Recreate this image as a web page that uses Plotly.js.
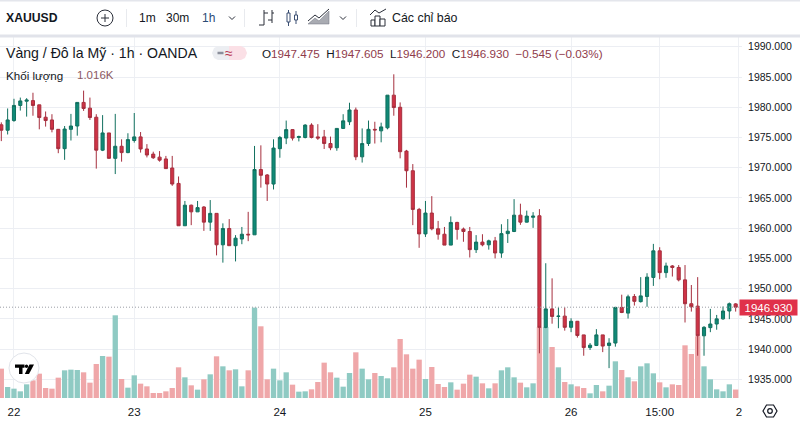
<!DOCTYPE html>
<html>
<head>
<meta charset="utf-8">
<script src="https://cdn.plot.ly/plotly-3.0.1.min.js"></script>
<style>html,body{margin:0;padding:0;background:#fff;overflow:hidden}#c{width:800px;height:422px}</style>
</head>
<body>
<div id="c"></div>
<script>
const opens = [1977.1,1976.2,1977.8,1980.3,1981.0,1981.1,1980.4,1978.35,1977.9,1976.35,
1973.15,1976.35,1976.9,1980.8,1979.85,1978.35,1972.9,1975.75,1971.55,1973.55,
1972.5,1974.5,1975.1,1973.1,1972.25,1971.75,1971.45,1969.95,1967.4,1960.4,
1963.8,1962.7,1963.5,1961,1962.45,1957.25,1959.95,1957.1,1958.2,1959,
1958.9,1969.7,1968.8,1967.3,1973.15,1974.9,1976.3,1975,1975,1977.05,
1975.1,1975.1,1974,1973.3,1976.5,1977.6,1979.55,1971.8,1974,1976.35,
1976.1,1976.6,1982,1980,1972.75,1969.5,1963.1,1959.05,1962.5,1959.9,
1959,1957.2,1960.95,1959.85,1959.45,1956.45,1957.7,1957.25,1957.9,1955.9,
1959.1,1959.45,1962.15,1961,1961.8,1962.05,1943.6,1946.65,1945.4,1945.45,
1943.6,1944.6,1942.35,1940.25,1940.6,1942.35,1940.6,1941,1946.9,1945.95,
1948.7,1947.85,1948.7,1951.85,1956.25,1952.65,1953.75,1953.5,1951.45,1947.5,
1947.1,1942.2,1943.55,1944.15,1945,1946.3,1947.475];
const highs = [1977.5,1979.8,1981.4,1981.6,1981.5,1982.4,1980.4,1979.3,1978.85,1976.4,
1976.9,1978.9,1980.8,1982.75,1981.6,1978.85,1978.7,1975.75,1978.9,1974.7,
1975.7,1979.05,1975.9,1973.9,1972.65,1972.75,1971.95,1971.95,1968.55,1964.5,
1963.9,1964.5,1963.65,1964.65,1962.45,1960.8,1961.5,1958.85,1960.2,1962.7,
1973.6,1973.7,1968.95,1974.7,1975.25,1977.8,1976.4,1975.3,1977.2,1977.35,
1977.2,1976.25,1975.15,1976.5,1978.85,1980.75,1979.95,1976.5,1977.8,1977.6,
1977.45,1982,1985.45,1980.8,1972.95,1970.6,1963.35,1964.5,1965.3,1961.2,
1960.2,1961.95,1961.05,1960.1,1960.2,1958.85,1959,1958.1,1958.55,1960.65,
1961.5,1964.8,1964.05,1962.9,1962.65,1963.15,1954.2,1951.7,1946.9,1946.9,
1945.1,1944.65,1942.35,1941,1943.3,1942.35,1941.8,1946.9,1949,1949,
1949.1,1951.9,1952.55,1957.4,1956.85,1954.3,1953.9,1953.9,1953.9,1950.6,
1951.9,1943.8,1946.65,1945.65,1947.05,1947.7,1947.605];
const lows = [1974.4,1975.5,1977.6,1979.45,1978.45,1978.6,1976.35,1976.8,1975.85,1972.4,
1971.3,1974.5,1975.3,1979.4,1977.9,1969.85,1972.75,1971.5,1968.95,1971,
1972.4,1974.15,1972.5,1971.7,1971.45,1971,1969.8,1967,1960.4,1960.4,
1960.5,1962.7,1959.55,1959.55,1955.5,1954.3,1957.1,1954.5,1957.35,1957.85,
1958.9,1966.7,1964.5,1966.4,1971.65,1973.9,1974.5,1974.35,1974.85,1974.85,
1974.6,1973.1,1972.9,1972.8,1976.4,1977.05,1971.25,1970.85,1973.6,1974,
1974.2,1976.35,1978.6,1971.55,1966.7,1960.5,1956.75,1958.55,1959.65,1958.1,
1957.2,1957.2,1958.1,1957.75,1955.15,1955.9,1957,1956.45,1955,1955.1,
1957.55,1959.35,1960.55,1960.95,1960.05,1939.3,1943.45,1944.2,1943.45,1943.05,
1942.8,1941.9,1938.9,1939.85,1940.5,1939.5,1936.85,1940.4,1945.95,1945.05,
1947.2,1947.7,1947,1950.45,1951.55,1951.8,1952,1951.2,1944.4,1946.2,
1938.9,1938.9,1942.8,1943.2,1944.85,1944.95,1946.2];
const closes = [1976.2,1977.9,1980.3,1981.05,1981.2,1980.3,1978.3,1977.8,1976.35,1973.15,
1976.4,1976.9,1980.8,1979.8,1978.3,1972.9,1975.75,1971.55,1973.55,1972.5,
1974.65,1975.1,1973.1,1972.1,1971.65,1971.25,1969.85,1967.3,1960.4,1963.8,
1962.7,1963.4,1961,1962.45,1957.25,1959.95,1957.1,1958.35,1959,1958.9,
1969.7,1968.75,1967.3,1973.25,1975,1976.3,1974.9,1975.15,1977.05,1975,
1974.9,1974,1973.3,1976.5,1977.75,1979.55,1971.8,1974,1976.35,1976.25,
1976.75,1982,1979.95,1972.65,1969.5,1963.1,1959.05,1962.5,1959.9,1959,
1957.2,1960.95,1959.8,1959.45,1956.45,1957.7,1957.25,1957.9,1955.9,1959.1,
1959.5,1962.15,1961,1962,1962,1943.6,1946.65,1945.4,1945.45,1943.6,
1944.6,1942.25,1940.25,1940.65,1942.35,1940.5,1941,1946.9,1946.05,1948.65,
1947.9,1948.8,1951.9,1956.25,1952.65,1953.75,1953.5,1951.45,1947.5,1947,
1942.2,1943.6,1944.15,1945,1946.3,1947.5,1946.93];
const volumes = [3.52,1.32,1.12,0.8,1.64,2.12,2.92,1.2,1.12,2.44,
3.32,3.4,3.36,3.08,1.84,4.08,5.04,4.96,9.92,2.28,
1.24,2.72,1.72,1.4,0.6,0.6,0.8,1.2,3.68,2.48,
1.52,1.0,2.24,2.84,5.0,3.8,3.32,3.44,1.4,3.32,
10.84,8.6,2.24,3.52,2.12,3.08,1.6,0.76,0.8,1.04,
1.92,4.24,3.08,2.44,1.36,3.0,5.48,3.52,2.24,3.0,
2.64,2.36,3.68,7.08,5.24,3.52,4.6,2.28,3.72,1.68,
1.32,1.88,1.0,1.72,2.8,2.56,1.76,1.16,1.76,3.32,
3.68,2.48,1.84,1.28,1.76,8.52,8.52,6.12,3.68,1.92,
1.64,1.4,1.2,0.56,1.56,0.8,1.48,4.4,3.36,2.48,
2.0,3.8,4.16,2.96,1.88,1.28,1.64,1.56,6.32,5.28,
7.4,3.8,2.24,1.04,0.8,1.64,1.016];
const dayTicks = [2,21,44,67,90,104,116.5];
const dayLabels = ['22','23','24','25','26','15:00','2'];
const priceTicks = [1935,1940,1945,1950,1955,1960,1965,1970,1975,1980,1985,1990];
const lastPrice = 1946.93;

const PLOT = {l:0, r:742, t:37, b:398};
const W = PLOT.r-PLOT.l, H = PLOT.b-PLOT.t;
const px = x => (x-PLOT.l)/W;
const py = y => 1-(y-PLOT.t)/H;
const idx = opens.map((_,i)=>i);
const UP='#0f8a77', DOWN='#cf3346', UPV='#8fcac3', DOWNV='#efa7a9', INK='#131722';

const pathOf = (pts,close)=>'M'+pts.map(p=>px(p[0])+' '+py(p[1])).join('L')+(close?'Z':'');
const pshape = (pts,o={})=>Object.assign({type:'path',xref:'paper',yref:'paper',path:pathOf(pts,o.fill!==undefined),
  line:{color:o.color||INK,width:o.w===undefined?1:o.w},fillcolor:o.fill||'rgba(0,0,0,0)',layer:o.layer||'above'});
const rect = (x0,y0,x1,y1,fill,line)=>({type:'rect',xref:'paper',yref:'paper',x0:px(x0),x1:px(x1),y0:py(y1),y1:py(y0),
  fillcolor:fill,line:{color:line||fill,width:line?1:0},layer:'above'});
const circ = (cx,cy,r,fill,line,w)=>({type:'circle',xref:'paper',yref:'paper',x0:px(cx-r),x1:px(cx+r),y0:py(cy+r),y1:py(cy-r),
  fillcolor:fill,line:{color:line,width:w===undefined?1:w},layer:'above'});
const label = (x,y,text,o={})=>({xref:'paper',yref:'paper',x:px(x),y:py(y),text,showarrow:false,xanchor:o.anchor||'left',yanchor:'middle',
  font:{family:o.family||'Liberation Sans, Arial, sans-serif',size:o.size||12,color:o.color||INK},borderpad:0,captureevents:false});
const chevron = (x,y)=>pshape([[x-3,y-1.5],[x,y+1.5],[x+3,y-1.5]],{color:'#2a2e39',w:1});

const shapes = [
  rect(0,0,800,1.5,'#e4e6ec'),
  rect(0,34.5,800,37.5,'#e1e3ea'),
  rect(126,9,126.8,27,'#e3e5ea'),
  rect(244,9,244.8,27,'#e3e5ea'),
  rect(356,9,356.8,27,'#e3e5ea'),
  circ(105,18,8,'#fff','#2a2e39',1),
  pshape([[101,18],[109,18]],{color:'#2a2e39'}),
  pshape([[105,14],[105,22]],{color:'#2a2e39'}),
  chevron(232,18),chevron(343,18),
  // bar style icon
  pshape([[264,10],[264,25]],{color:'#2a2e39'}),pshape([[259,25],[264,25]],{color:'#2a2e39'}),
  pshape([[264,13],[268,13]],{color:'#2a2e39'}),
  pshape([[272,10],[272,23]],{color:'#2a2e39'}),pshape([[268,20],[272,20]],{color:'#2a2e39'}),pshape([[272,13],[274,13]],{color:'#2a2e39'}),
  // candle style icon
  rect(287,13,290,22,'#fff','#3b4f72'),pshape([[288.5,10],[288.5,13]],{color:'#3b4f72'}),pshape([[288.5,22],[288.5,26]],{color:'#3b4f72'}),
  rect(294.5,15,297.5,20,'#fff','#3b4f72'),pshape([[296,11],[296,15]],{color:'#3b4f72'}),pshape([[296,20],[296,24]],{color:'#3b4f72'}),
  // area icon
  pshape([[308,24],[315,18],[319,21],[329,11],[329,24]],{color:'#6d717c',w:0.5,fill:'#a9abb2'}),
  pshape([[308,21],[315,15],[319,18],[329,9]],{color:'#2a2e39',w:1}),
  // indicators icon
  rect(371,20,375,26,'#fff','#2a2e39'),rect(375,16,380,26,'#fff','#2a2e39'),rect(380,19,385,26,'#fff','#2a2e39'),
  pshape([[370,15],[375,10],[379,13],[386,9]],{color:'#2a2e39'}),
  // legend pills
  {type:'path',xref:'paper',yref:'paper',layer:'above',line:{width:0},fillcolor:'#eceef2',path:pathOf([[229,46],[218,46],[214,48],[212,53],[214,58],[218,60],[229,60]],true)},
  {type:'path',xref:'paper',yref:'paper',layer:'above',line:{width:0},fillcolor:'#fbe0e6',path:pathOf([[229,46],[241,46],[245,48],[247,53],[245,58],[241,60],[229,60]],true)},
  pshape([[217.5,53],[223.5,53]],{color:'#8b8f9b',w:2.5}),
  // watermark logo
  circ(24,368,15,'rgba(255,255,255,0.92)','#e1e4ea',1),
  pshape([[15,364.5],[24.5,364.5],[24.5,367.7],[22.5,367.7],[22.5,374],[19,374],[19,367.7],[15,367.7]],{fill:'#000',w:0}),
  circ(26.5,366.2,1.7,'#000','#000',0),
  pshape([[29.5,364.5],[34,364.5],[29,374],[24.8,374]],{fill:'#000',w:0}),
  // settings icon
  pshape([[763,411],[766.5,405],[773.5,405],[777,411],[773.5,417],[766.5,417]],{fill:'#fff',color:'#131722',w:1.2}),
  circ(770,411,2.3,'#fff','#131722',1.2),
  // last price dotted line
  {type:'line',xref:'paper',yref:'y2',x0:0,x1:1,y0:lastPrice,y1:lastPrice,line:{color:'#9a9da6',width:1,dash:'1px,2px'},layer:'above'}
];

const val = '#8f3b4b';
const legend =
  'O<span style="color:'+val+'">1947.475</span>  H<span style="color:'+val+'">1947.605</span>  L<span style="color:'+val+'">1946.200</span>  C<span style="color:'+val+'">1946.930</span>  <span style="color:'+val+'">−0.545 (−0.03%)</span>';
const annotations = [
  label(5,18,'<b>XAUUSD</b>',{size:12.2}),
  label(138,18,'1m',{size:12}),
  label(165,18,'30m',{size:12}),
  label(201,18,'1h',{size:12,color:'#2b4a75'}),
  label(391,18,'Các chỉ báo',{size:12.4}),
  label(5,53,'Vàng / Đô la Mỹ · 1h · OANDA',{size:14.1}),
  label(229,53,'≈',{size:14,color:'#b8334f',anchor:'center'}),
  label(261,53,legend,{size:11.7}),
  label(5,75,'Khối lượng',{size:11.6}),
  label(76,75,'1.016K',{size:11.5,color:'#8d5a62'}),
  {xref:'paper',yref:'y2',x:798/W,y:lastPrice,xanchor:'right',yanchor:'middle',text:'1946.930',showarrow:false,
   bgcolor:'#e0314a',width:57,height:15,align:'center',borderpad:0,font:{family:'Liberation Sans, Arial, sans-serif',size:11.5,color:'#fff'}}
];

Plotly.newPlot('c',[
  {type:'bar',x:idx,y:volumes,yaxis:'y',xaxis:'x',width:0.84,
   marker:{color:volumes.map((_,i)=>closes[i]>=opens[i]?UPV:DOWNV),line:{width:0}},hoverinfo:'skip',showlegend:false},
  {type:'candlestick',x:idx,open:opens,high:highs,low:lows,close:closes,xaxis:'x',yaxis:'y2',width:0.62,whiskerwidth:0,
   increasing:{line:{color:'#11705f',width:1},fillcolor:UP},
   decreasing:{line:{color:'#a62f3e',width:1},fillcolor:DOWN},hoverinfo:'skip',showlegend:false}
],{
  width:800,height:422,paper_bgcolor:'#fff',plot_bgcolor:'#fff',showlegend:false,
  margin:{l:0,r:800-PLOT.r,t:PLOT.t,b:422-PLOT.b,pad:0},
  font:{family:'Liberation Sans, Arial, sans-serif',color:INK,size:11},
  xaxis:{range:[-0.206,117.0],tickmode:'array',tickvals:dayTicks,ticktext:dayLabels,showgrid:true,gridcolor:'#eef0f4',gridwidth:1,
    zeroline:false,showline:false,ticks:'outside',ticklen:3,tickcolor:'rgba(0,0,0,0)',rangeslider:{visible:false},fixedrange:true,
    tickfont:{size:11.5,color:INK},automargin:false},
  yaxis:{range:[0,43.3],visible:false,fixedrange:true,showgrid:false,zeroline:false},
  yaxis2:{overlaying:'y',side:'right',range:[1931.91,1991.62],tickmode:'array',tickvals:priceTicks,tickformat:'.3f',
    showgrid:true,gridcolor:'#eceef3',gridwidth:1,zeroline:false,showline:false,ticks:'outside',ticklen:3,tickcolor:'rgba(0,0,0,0)',
    tickfont:{size:10.5,color:INK},fixedrange:true,automargin:false},
  shapes,annotations
},{displayModeBar:false,staticPlot:true});
</script>
</body>
</html>
